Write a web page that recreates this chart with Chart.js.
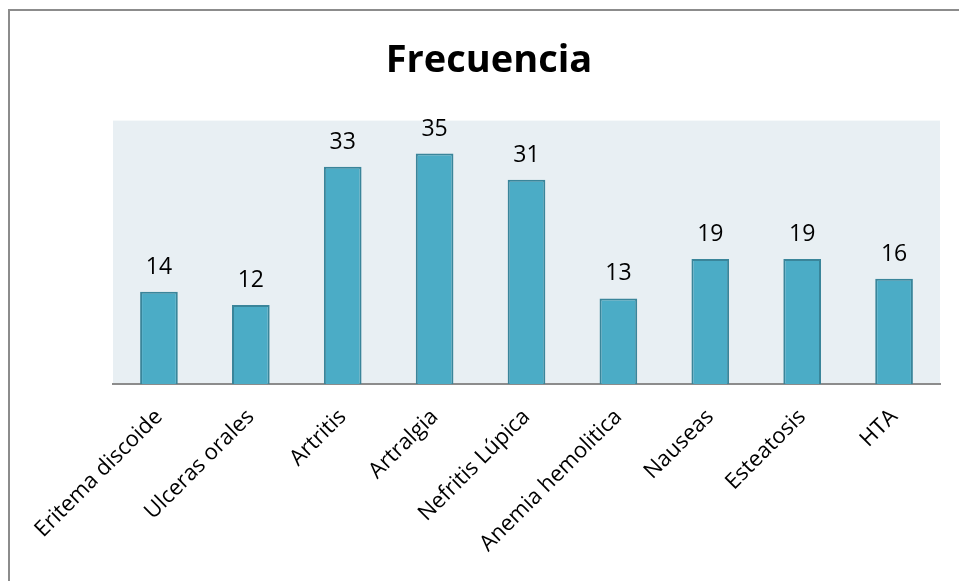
<!DOCTYPE html>
<html lang="es">

<head>
    <meta charset="utf-8">
    <title>Frecuencia</title>
    <style>
        body { margin: 0; background: #fff; }
        .frame {
            position: absolute; left: 8px; top: 9px; width: 960px; height: 580px;
            border-top: 2px solid #8c8c8c; border-left: 2px solid #8c8c8c;
        }
        .chartBox { position: absolute; left: 0; top: 0; width: 959px; height: 581px; }
    </style>
</head>

<body>
    <div class="frame"></div>
    <div class="chartBox">
        <canvas id="myChart" width="959" height="581"></canvas>
    </div>
    <script src="https://cdn.jsdelivr.net/npm/chart.js/dist/chart.umd.min.js"></script>
    <script>
        const categories = ['Eritema discoide', 'Ulceras orales', 'Artritis', 'Artralgia', 'Nefritis Lúpica',
            'Anemia hemolitica', 'Nauseas', 'Esteatosis', 'HTA'];
        const frecuencia = [14, 12, 33, 35, 31, 13, 19, 19, 16];

        const fontFamily = '"Open Sans", Lato, sans-serif';

        // light panel behind the bars
        const plotBg = {
            id: 'plotBg',
            beforeDraw(chart) {
                const { ctx, chartArea: a } = chart;
                ctx.save();
                ctx.fillStyle = '#e8eff3';
                ctx.fillRect(a.left, a.top, a.right - a.left, a.bottom - a.top);
                ctx.restore();
            }
        };

        // value written over each bar
        const barValues = {
            id: 'barValues',
            afterDatasetsDraw(chart) {
                const { ctx } = chart;
                const meta = chart.getDatasetMeta(0);
                ctx.save();
                ctx.font = '23px ' + fontFamily;
                ctx.fillStyle = '#000';
                ctx.textAlign = 'center';
                ctx.textBaseline = 'alphabetic';
                meta.data.forEach((bar, i) => {
                    ctx.fillText(String(frecuencia[i]), bar.x, bar.y - 18);
                });
                ctx.restore();
            }
        };

        const data = {
            labels: categories,
            datasets: [{
                label: 'Frecuencia',
                data: frecuencia,
                backgroundColor: '#4bacc6',
                borderColor: '#3a859a',
                borderWidth: 2,
                borderSkipped: 'bottom',
                barPercentage: 0.41,
                categoryPercentage: 1
            }]
        };

        const config = {
            type: 'bar',
            data,
            options: {
                responsive: false,
                animation: false,
                layout: { padding: { left: 38, right: 19, top: 0, bottom: 0 } },
                plugins: {
                    legend: { display: false },
                    tooltip: { enabled: false },
                    title: {
                        display: true,
                        text: 'Frecuencia',
                        color: '#000',
                        font: { family: fontFamily, size: 38, weight: 'bold', lineHeight: 1.2 },
                        padding: { top: 38, bottom: 37 }
                    }
                },
                scales: {
                    x: {
                        grid: { display: false },
                        border: { display: true, color: '#8c8c8c', width: 2 },
                        ticks: {
                            color: '#000',
                            font: { family: fontFamily, size: 22 },
                            minRotation: 45,
                            maxRotation: 45,
                            padding: 12
                        },
                        afterFit(scale) { scale.height = 197; }
                    },
                    y: {
                        min: 0,
                        max: 40,
                        grid: { display: false },
                        border: { display: false },
                        ticks: { display: false },
                        afterFit(scale) { scale.width = 75; }
                    }
                }
            },
            plugins: [plotBg, barValues]
        };

        const myChart = new Chart(document.getElementById('myChart'), config);
    </script>
</body>

</html>
